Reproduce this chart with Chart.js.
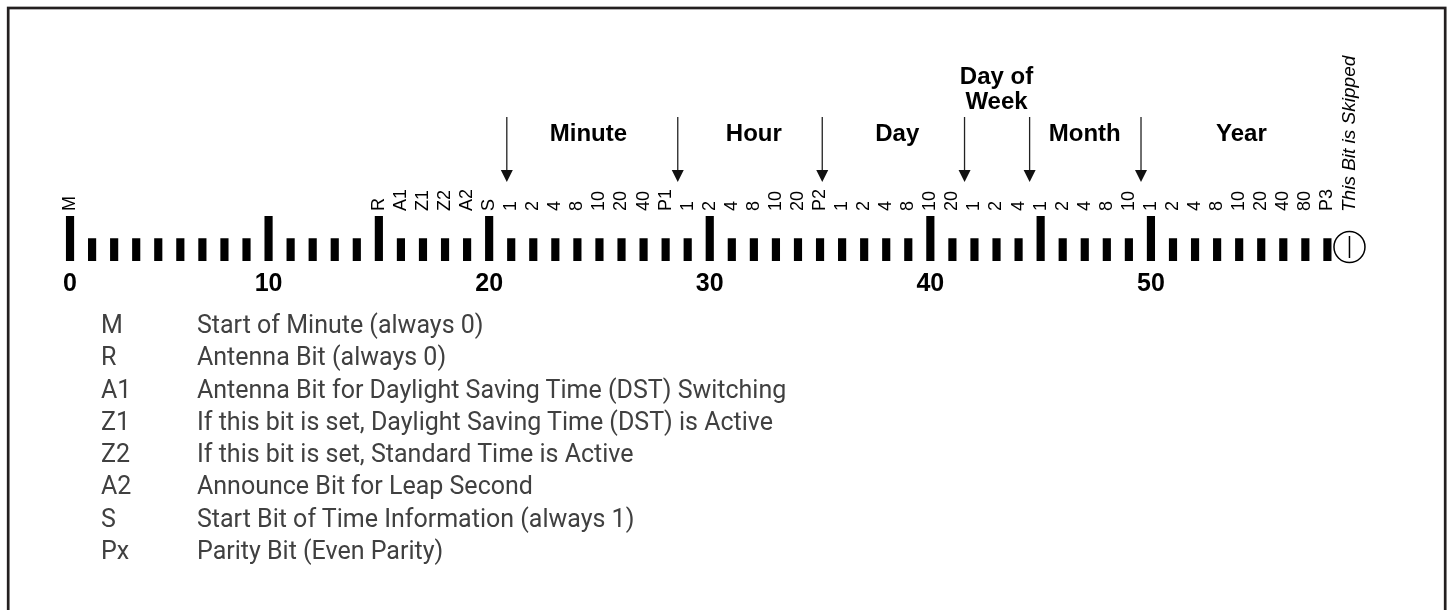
<!DOCTYPE html>
<html>
<head>
<meta charset="utf-8">
<title>DCF77 time code</title>
<script src="https://cdn.jsdelivr.net/npm/chart.js@4.4.1/dist/chart.umd.min.js"></script>
<style>
  html, body { margin: 0; padding: 0; background: #fff; }
  #wrap { position: relative; width: 1450px; height: 610px; overflow: hidden; }
  #legend {
    position: absolute; left: 101px; top: 309px;
    font: 25px Roboto, 'Liberation Sans', sans-serif; color: #404040; line-height: 32.3px;
  }
  #legend .abbr { display: inline-block; width: 96px; }
</style>
</head>
<body>
<div id="wrap">
  <canvas id="bits" width="1450" height="610"></canvas>
  <div id="legend"></div>
</div>
<script>
/* ---- data: one slot per drawn bar (the picture draws 9 bars before "10") ---- */
const seconds = ['0', '1', '2', '3', '4', '5', '6', '7', '8',
  '10', '11', '12', '13', '14', '15', '16', '17', '18', '19',
  '20', '21', '22', '23', '24', '25', '26', '27', '28', '29',
  '30', '31', '32', '33', '34', '35', '36', '37', '38', '39',
  '40', '41', '42', '43', '44', '45', '46', '47', '48', '49',
  '50', '51', '52', '53', '54', '55', '56', '57', '58', '59'];

// pulse height: 2 = long marker bar, 1 = normal bar, null = skipped bit
const pulses = [2, 1, 1, 1, 1, 1, 1, 1, 1,
  2, 1, 1, 1, 1, 2, 1, 1, 1, 1,
  2, 1, 1, 1, 1, 1, 1, 1, 1, 1,
  2, 1, 1, 1, 1, 1, 1, 1, 1, 1,
  2, 1, 1, 1, 1, 2, 1, 1, 1, 1,
  2, 1, 1, 1, 1, 1, 1, 1, 1, null];

const bitNames = ['M', '', '', '', '', '', '', '', '',
  '', '', '', '', '', 'R', 'A1', 'Z1', 'Z2', 'A2',
  'S', '1', '2', '4', '8', '10', '20', '40', 'P1', '1',
  '2', '4', '8', '10', '20', 'P2', '1', '2', '4', '8',
  '10', '20', '1', '2', '4', '1', '2', '4', '8', '10',
  '1', '2', '4', '8', '10', '20', '40', '80', 'P3', ''];

const axisNumbers = ['0', '10', '20', '30', '40', '50'];

const groupNames = ['Minute', 'Hour', 'Day', 'Day of\nWeek', 'Month', 'Year'];
const groupCenters = [23.5, 31, 37.5, 42, 46, 53.1];            // slot under each title
const groupArrows = [19.8, 27.55, 34.1, 40.55, 43.5, 48.55];    // slot where each arrow stands

const skippedSlot = 58;
const skippedText = 'This Bit is Skipped';

const legendKeys = ['M', 'R', 'A1', 'Z1', 'Z2', 'A2', 'S', 'Px'];
const legendTexts = [
  'Start of Minute (always 0)',
  'Antenna Bit (always 0)',
  'Antenna Bit for Daylight Saving Time (DST) Switching',
  'If this bit is set, Daylight Saving Time (DST) is Active',
  'If this bit is set, Standard Time is Active',
  'Announce Bit for Leap Second',
  'Start Bit of Time Information (always 1)',
  'Parity Bit (Even Parity)',
];

const SANS = "Arial, 'Liberation Sans', sans-serif";

/* ---- legend under the strip ---- */
document.getElementById('legend').innerHTML = legendKeys.map((k, i) =>
  `<div><span class="abbr">${k}</span>${legendTexts[i]}</div>`).join('');

/* ---- x for a fractional slot, through the category scale ---- */
function slotX(scale, v) {
  const i = Math.floor(v);
  const a = scale.getPixelForValue(i);
  const b = scale.getPixelForValue(i + 1);
  return a + (b - a) * (v - i);
}

const decorations = {
  id: 'decorations',
  beforeDraw(chart) {
    const { ctx } = chart;
    ctx.save();
    ctx.fillStyle = '#fff';
    ctx.fillRect(0, 0, chart.width, chart.height);
    ctx.strokeStyle = '#231f20';
    ctx.lineWidth = 2.7;
    ctx.strokeRect(8.2, 8, 1437, 620);
    ctx.restore();
  },
  afterDraw(chart) {
    const { ctx, chartArea } = chart;
    const x = chart.scales.x;
    ctx.save();

    // rotated bit names above the bars
    ctx.fillStyle = '#000';
    ctx.font = `18px ${SANS}`;
    ctx.textAlign = 'left';
    ctx.textBaseline = 'middle';
    bitNames.forEach((name, i) => {
      if (!name) return;
      ctx.save();
      ctx.translate(x.getPixelForValue(i), chartArea.top - 5);
      ctx.rotate(-Math.PI / 2);
      ctx.fillText(name, 0, 0);
      ctx.restore();
    });

    // skipped bit: circle with stroke, italic note
    const sx = x.getPixelForValue(skippedSlot);
    const cy = chartArea.bottom - 14;
    ctx.strokeStyle = '#000';
    ctx.lineWidth = 1.5;
    ctx.beginPath();
    ctx.arc(sx, cy, 15.5, 0, Math.PI * 2);
    ctx.stroke();
    ctx.beginPath();
    ctx.moveTo(sx, cy - 11);
    ctx.lineTo(sx, cy + 11);
    ctx.stroke();
    ctx.save();
    ctx.font = `italic 19px ${SANS}`;
    ctx.translate(sx, chartArea.top - 4);
    ctx.rotate(-Math.PI / 2);
    ctx.fillText(skippedText, 0, 0);
    ctx.restore();

    // group arrows
    const top = 117, tip = 182;
    ctx.strokeStyle = '#222';
    ctx.fillStyle = '#111';
    ctx.lineWidth = 1.3;
    groupArrows.forEach((v) => {
      const ax = slotX(x, v);
      ctx.beginPath();
      ctx.moveTo(ax, top);
      ctx.lineTo(ax, tip - 10);
      ctx.stroke();
      ctx.beginPath();
      ctx.moveTo(ax - 6, tip - 12);
      ctx.lineTo(ax + 6, tip - 12);
      ctx.lineTo(ax, tip);
      ctx.closePath();
      ctx.fill();
    });

    // group titles
    ctx.fillStyle = '#000';
    ctx.font = `bold 24px ${SANS}`;
    ctx.textAlign = 'center';
    ctx.textBaseline = 'alphabetic';
    groupNames.forEach((name, i) => {
      const cx = slotX(x, groupCenters[i]);
      const lines = name.split('\n');
      const base = lines.length > 1 ? 108.5 : 141;
      lines.forEach((line, j) => {
        ctx.fillText(line, cx, base - (lines.length - 1 - j) * 24.5);
      });
    });

    ctx.restore();
  },
};

new Chart(document.getElementById('bits'), {
  type: 'bar',
  data: {
    labels: seconds,
    datasets: [{
      data: pulses,
      backgroundColor: '#000',
      barThickness: 7.5,
    }],
  },
  options: {
    responsive: false,
    animation: false,
    events: [],
    layout: { padding: { left: 59, right: 89.5, top: 216, bottom: 309 } },
    plugins: { legend: { display: false }, tooltip: { enabled: false } },
    scales: {
      x: {
        grid: { display: false, drawTicks: false },
        border: { display: false },
        afterFit: (scale) => { scale.height = 40; },
        ticks: {
          autoSkip: false, maxRotation: 0, minRotation: 0, padding: 8,
          color: '#000',
          font: { family: SANS, size: 25, weight: 'bold' },
          callback: (value, index) => (axisNumbers.includes(seconds[index]) ? seconds[index] : ''),
        },
      },
      y: { display: false, min: 0, max: 2 },
    },
  },
  plugins: [decorations],
});
</script>
</body>
</html>
